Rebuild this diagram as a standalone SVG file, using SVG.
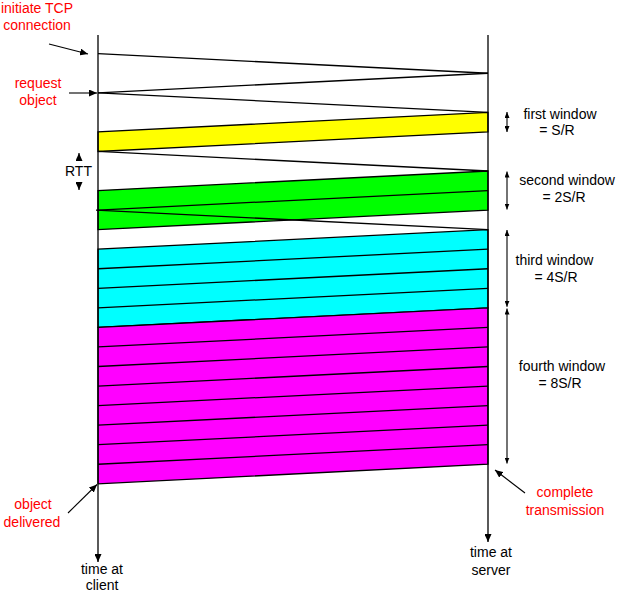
<svg xmlns="http://www.w3.org/2000/svg" width="620" height="593" viewBox="0 0 620 593">
<style>
  text { font-family: "Liberation Sans", Arial, sans-serif; font-size: 14px; text-anchor: middle; }
  .red { fill: #ff0000; }
  .blk { fill: #000000; }
  .ln { stroke: #000; stroke-width: 1.3; fill: none; }
  .band { stroke: #000; stroke-width: 1.3; }
  .arr { stroke: #000; stroke-width: 1.1; fill: none; marker-end: url(#ah); }
  .warr { stroke: #000; stroke-width: 1.1; fill: none; marker-start: url(#wh); marker-end: url(#wh); }
</style>
<defs>
  <marker id="ah" viewBox="0 0 8 7" refX="8" refY="3.5" markerWidth="8" markerHeight="7" markerUnits="userSpaceOnUse" orient="auto">
    <path d="M0,0 L8,3.5 L0,7 z" fill="#000"/>
  </marker>
  <marker id="wh" viewBox="0 0 6 5" refX="6" refY="2.5" markerWidth="6" markerHeight="5" markerUnits="userSpaceOnUse" orient="auto-start-reverse">
    <path d="M0,0 L6,2.5 L0,5 z" fill="#000"/>
  </marker>
</defs>
<rect width="620" height="593" fill="#ffffff"/>

<g id="bands">
  <polygon id="yellow-window" class="band" fill="#ffff00" points="488,112.35 488,131.9 98,151.45 98,131.9"/>
  <polygon id="green-window" class="band" fill="#00ff00" points="488,171 488,210.1 98,229.65 98,190.55"/>
  <polygon id="cyan-window" class="band" fill="#00ffff" points="488,229.65 488,307.85 98,327.4 98,249.2"/>
  <polygon id="magenta-window" class="band" fill="#ff00ff" points="488,307.85 488,464.25 98,483.8 98,327.4"/>
</g>

<g id="connectors">
  <line class="ln" x1="98" y1="53.7" x2="488" y2="73.25"/>
  <line class="ln" x1="488" y1="73.25" x2="98" y2="92.8"/>
  <line class="ln" x1="98" y1="92.8" x2="488" y2="112.35"/>
  <line class="ln" x1="98" y1="151.45" x2="488" y2="171"/>
  <line class="ln" x1="488" y1="190.55" x2="98" y2="210.1"/>
  <line class="ln" x1="96" y1="210.1" x2="488" y2="229.65"/>
  <line class="ln" x1="488" y1="249.2" x2="98" y2="268.75"/>
  <line class="ln" x1="488" y1="268.75" x2="98" y2="288.3"/>
  <line class="ln" x1="488" y1="288.3" x2="98" y2="307.85"/>
  <line class="ln" x1="488" y1="327.4" x2="98" y2="346.95"/>
  <line class="ln" x1="488" y1="346.95" x2="98" y2="366.5"/>
  <line class="ln" x1="488" y1="366.5" x2="98" y2="386.05"/>
  <line class="ln" x1="488" y1="386.05" x2="98" y2="405.6"/>
  <line class="ln" x1="488" y1="405.6" x2="98" y2="425.15"/>
  <line class="ln" x1="488" y1="425.15" x2="98" y2="444.7"/>
  <line class="ln" x1="488" y1="444.7" x2="98" y2="464.25"/>
  <!-- label pointers -->
  <line class="arr" x1="49" y1="44" x2="88" y2="54"/>
  <line class="arr" x1="69" y1="93" x2="97" y2="93"/>
  <line class="arr" x1="68" y1="513" x2="97" y2="484.5"/>
  <line class="arr" x1="525" y1="493" x2="495" y2="470"/>
  <!-- RTT -->
  <line class="arr" x1="79" y1="161" x2="79" y2="153"/>
  <line class="arr" x1="79" y1="182" x2="79" y2="190"/>
  <!-- window extents -->
  <line class="warr" x1="507" y1="112" x2="507" y2="132"/>
  <line class="warr" x1="507" y1="171.5" x2="507" y2="209.5"/>
  <line class="warr" x1="507" y1="230" x2="507" y2="306.8"/>
  <line class="warr" x1="507" y1="308.6" x2="507" y2="463.5"/>
</g>

<g id="client">
  <line class="ln" x1="98" y1="35" x2="98" y2="562" marker-end="url(#ah)"/>
  <text class="blk" x="102" y="574">time at</text>
  <text class="blk" x="102" y="589.5">client</text>
</g>
<g id="server">
  <line class="ln" x1="488" y1="35" x2="488" y2="542" marker-end="url(#ah)"/>
  <text class="blk" x="491" y="557">time at</text>
  <text class="blk" x="491" y="575">server</text>
</g>

<g id="labels">
  <text class="red" x="37" y="12.5">initiate TCP</text>
  <text class="red" x="37" y="29.5">connection</text>
  <text class="red" x="38" y="88">request</text>
  <text class="red" x="38" y="105">object</text>
  <text class="blk" x="78.5" y="176">RTT</text>
  <text class="blk" x="560" y="118.5">first window</text>
  <text class="blk" x="557" y="135">= S/R</text>
  <text class="blk" x="567" y="185">second window</text>
  <text class="blk" x="564" y="202">= 2S/R</text>
  <text class="blk" x="554.5" y="265">third window</text>
  <text class="blk" x="556" y="282">= 4S/R</text>
  <text class="blk" x="562" y="371">fourth window</text>
  <text class="blk" x="560" y="387.5">= 8S/R</text>
  <text class="red" x="33" y="509">object</text>
  <text class="red" x="32" y="526.5">delivered</text>
  <text class="red" x="565" y="497">complete</text>
  <text class="red" x="565" y="515">transmission</text>
</g>
</svg>
